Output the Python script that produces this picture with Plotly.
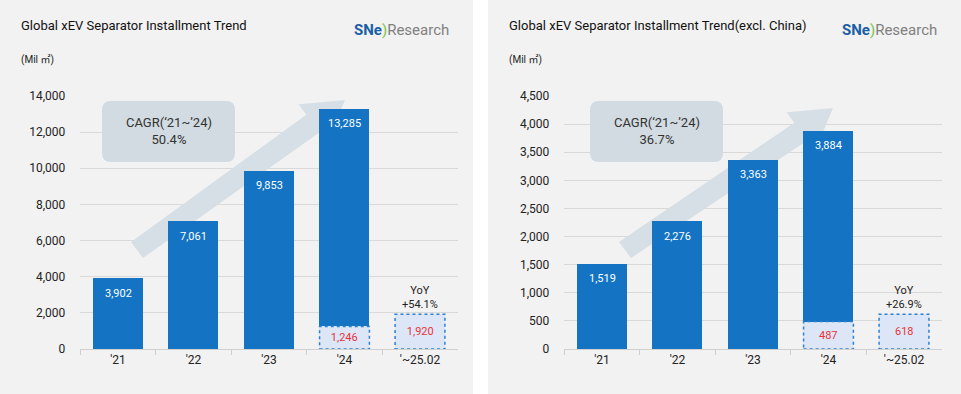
import plotly.graph_objects as go

# ---------------- data ----------------
categories = ["'21", "'22", "'23", "'24", "'~25.02"]
global_total = [3902, 7061, 9853, 13285, None]
global_ytd = [None, None, None, 1246, 1920]
exchina_total = [1519, 2276, 3363, 3884, None]
exchina_ytd = [None, None, None, 487, 618]
global_ticks = [0, 2000, 4000, 6000, 8000, 10000, 12000, 14000]
exchina_ticks = [0, 500, 1000, 1500, 2000, 2500, 3000, 3500, 4000, 4500]
titles = ["Global xEV Separator Installment Trend",
          "Global xEV Separator Installment Trend(excl. China)"]
cagr = ["50.4%", "36.7%"]
yoy = ["+54.1%", "+26.9%"]

W, H = 961, 394
FONT = "Roboto, 'Noto Sans CJK KR', sans-serif"
BLUE = "#1474c3"
LIGHT = "#dde6f6"
DOT = "#2b80d2"
RED = "#e8343c"


def X(px):
    return px / W


def Y(py):
    return 1 - py / H


fig = go.Figure()

panels = [
    dict(off=0, xa="x", ya="y", total=global_total, ytd=global_ytd,
         ticks=global_ticks, ymax=14000, dom=[80.25, 457.75]),
    dict(off=488, xa="x2", ya="y2", total=exchina_total, ytd=exchina_ytd,
         ticks=exchina_ticks, ymax=4500, dom=[564.25, 941.75]),
]

shapes = []
annotations = []
BW = 0.66

for k, p in enumerate(panels):
    off = p["off"]
    # panel background
    shapes.append(dict(type="rect", xref="paper", yref="paper", layer="below",
                       x0=X(off), x1=X(off + 473), y0=0, y1=1,
                       fillcolor="#f2f2f2", line=dict(width=0)))
    # main bars
    fig.add_trace(go.Bar(x=categories, y=p["total"], xaxis=p["xa"], yaxis=p["ya"],
                         width=BW, marker=dict(color=BLUE, line=dict(width=0)),
                         hoverinfo="skip", showlegend=False))
    # ytd bars
    fig.add_trace(go.Bar(x=categories, y=p["ytd"], xaxis=p["xa"], yaxis=p["ya"],
                         width=BW, marker=dict(color=LIGHT, line=dict(width=0)),
                         text=[f"{v:,}" if v else "" for v in p["ytd"]],
                         textposition="inside", insidetextanchor="middle",
                         textfont=dict(color=RED, size=11, family=FONT),
                         constraintext="none", cliponaxis=False,
                         hoverinfo="skip", showlegend=False))
    # dotted borders around ytd bars
    for i, v in enumerate(p["ytd"]):
        if v:
            shapes.append(dict(type="rect", xref=p["xa"], yref=p["ya"], layer="above",
                               x0=i - BW / 2, x1=i + BW / 2, y0=0, y1=v,
                               line=dict(color=DOT, width=1.5, dash="dot"),
                               fillcolor="rgba(0,0,0,0)"))
    # value labels on main bars
    for i, v in enumerate(p["total"]):
        if v:
            annotations.append(dict(xref=p["xa"], yref=p["ya"], x=i, y=v, yshift=-15,
                                    xanchor="center", yanchor="middle",
                                    text=f"{v:,}", showarrow=False,
                                    font=dict(color="white", size=11, family=FONT)))
    # YoY label
    annotations.append(dict(xref=p["xa"], yref=p["ya"], x=4, y=p["ytd"][4], yshift=1,
                            xanchor="center", yanchor="bottom",
                            text="YoY<br>" + yoy[k], showarrow=False,
                            font=dict(color="#222", size=11, family=FONT)))

    # trend arrow (pixel geometry -> data coords)
    c0 = (p["dom"][0] + p["dom"][1]) / 2 - 2 * 75.5
    ymax = p["ymax"]

    def D(px, py, c0=c0, ymax=ymax):
        return ((px - c0) / 75.5, (349 - py) / 253 * ymax)

    dy = 0 if k == 0 else 8
    pts = [(143, 258), (319.3, 132.5 + dy), (327, 143 + dy),
           (345, 100 + dy), (298.6, 104.3 + dy), (306.3, 114.7 + dy),
           (131, 242)]
    dp = [D(x + off, y) for x, y in pts]
    path = "M " + " L ".join(f"{a:.4f},{b:.2f}" for a, b in dp) + " Z"
    shapes.append(dict(type="path", xref=p["xa"], yref=p["ya"], layer="between",
                       path=path, fillcolor="#d6dfe5", line=dict(width=0)))

    # CAGR rounded box
    x0, x1, y0, y1, r = off + 102, off + 235, 101, 162, 9
    pth = (f"M {X(x0 + r)},{Y(y0)} L {X(x1 - r)},{Y(y0)} Q {X(x1)},{Y(y0)} {X(x1)},{Y(y0 + r)} "
           f"L {X(x1)},{Y(y1 - r)} Q {X(x1)},{Y(y1)} {X(x1 - r)},{Y(y1)} "
           f"L {X(x0 + r)},{Y(y1)} Q {X(x0)},{Y(y1)} {X(x0)},{Y(y1 - r)} "
           f"L {X(x0)},{Y(y0 + r)} Q {X(x0)},{Y(y0)} {X(x0 + r)},{Y(y0)} Z")
    shapes.append(dict(type="path", xref="paper", yref="paper", layer="above",
                       path=pth, fillcolor="#d2dbe1", line=dict(width=0)))
    annotations.append(dict(xref="paper", yref="paper", x=X(off + 168.5), y=Y(131),
                            xanchor="center", yanchor="middle",
                            text="CAGR(‘21~’24)<br>" + cagr[k], showarrow=False,
                            font=dict(color="#333", size=13, family=FONT)))

    # titles, unit, logo
    annotations.append(dict(xref="paper", yref="paper", x=X(off + 19), y=Y(25),
                            xanchor="left", yanchor="middle",
                            text=titles[k], showarrow=False,
                            font=dict(color="#111", size=13, family=FONT)))
    annotations.append(dict(xref="paper", yref="paper", x=X(off + 19), y=Y(60),
                            xanchor="left", yanchor="middle",
                            text="(Mil ㎡)", showarrow=False,
                            font=dict(color="#222", size=10, family=FONT)))
    annotations.append(dict(xref="paper", yref="paper", x=X(off + 352), y=Y(30),
                            xanchor="left", yanchor="middle",
                            text='<b><span style="color:#1b5ea8">SNe</span></b>'
                                 '<span style="color:#7dc242">)</span>'
                                 '<span style="color:#808080">Research</span>',
                            showarrow=False, font=dict(size=15, family=FONT)))

axis_common_x = dict(type="category", showgrid=False, zeroline=False, showline=True,
                     linecolor="#d0d0d0", linewidth=1, ticks="outside",
                     tickson="boundaries", ticklen=5, tickcolor="#d0d0d0",
                     automargin=False,
                     tickfont=dict(size=12, color="#222", family=FONT), fixedrange=True)
axis_common_y = dict(showgrid=True, gridcolor="#d9d9d9", gridwidth=1, zeroline=False,
                     showline=False, ticks="", separatethousands=True,
                     tickformat=",d", ticklabelstandoff=14, automargin=False,
                     tickfont=dict(size=12, color="#222", family=FONT), fixedrange=True)

fig.update_layout(
    width=W, height=H, autosize=False,
    margin=dict(l=0, r=0, t=0, b=0, pad=0, autoexpand=False),
    paper_bgcolor="white", plot_bgcolor="rgba(0,0,0,0)",
    barmode="overlay", bargap=0,
    xaxis=dict(axis_common_x, domain=[X(80.25), X(457.75)], anchor="y"),
    yaxis=dict(axis_common_y, domain=[Y(349), Y(96)], range=[0, 14000],
               tickvals=global_ticks, anchor="x"),
    xaxis2=dict(axis_common_x, domain=[X(564.25), X(941.75)], anchor="y2"),
    yaxis2=dict(axis_common_y, domain=[Y(349), Y(96)], range=[0, 4500],
                tickvals=exchina_ticks, anchor="x2"),
    shapes=shapes, annotations=annotations,
    font=dict(family=FONT),
)

fig.write_html("out.html", config={"displayModeBar": False},
               post_script="document.body.style.margin='0';document.body.style.overflow='hidden';")
